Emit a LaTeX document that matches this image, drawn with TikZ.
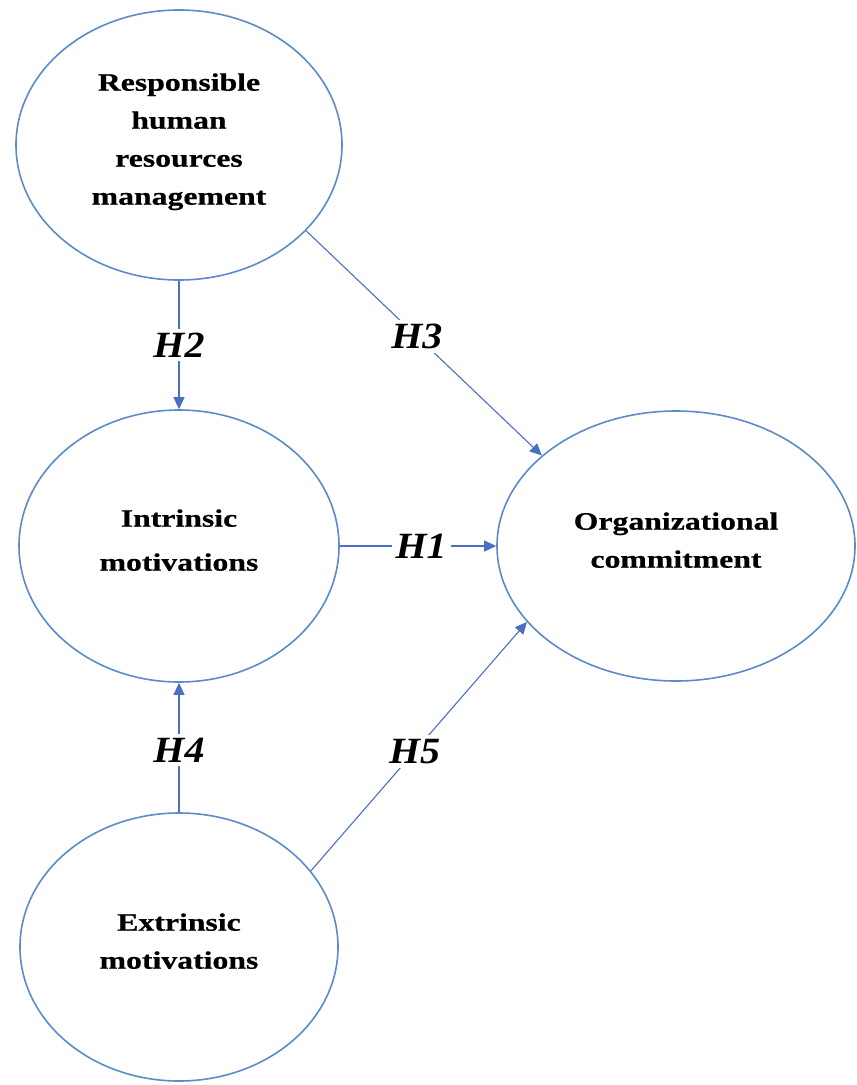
\documentclass[tikz,border=0pt]{standalone}
\usepackage{fontspec}
\setmainfont{Liberation Serif}[FakeStretch=1.27,FakeBold=0.6]
\newfontfamily\labfont{Liberation Serif}[FakeStretch=1.08]
\usetikzlibrary{shapes.geometric,arrows.meta}
\definecolor{ellblue}{HTML}{5B8BC8}
\definecolor{arrblue}{HTML}{4A70C2}
\tikzset{
  construct/.style={ellipse, draw=ellblue, line width=1.6pt, fill=white, inner sep=0pt,
    align=center, text depth=12pt, font=\fontsize{25}{38}\selectfont\bfseries},
  conn/.style={draw=arrblue, line width=1.1pt, -{Triangle[length=12pt,width=11pt]}},
  hlab/.style={fill=white, inner sep=4pt, font=\labfont\fontsize{37}{40}\selectfont\bfseries\itshape}
}
\begin{document}
\begin{tikzpicture}[x=1pt,y=-1pt]
\useasboundingbox (0,0) rectangle (857,1085);
\node[construct, minimum width=326pt, minimum height=270pt] (rhrm) at (179,145)
  {Responsible\\human\\resources\\management};
\node[construct, minimum width=320pt, minimum height=272pt, font=\fontsize{25}{44}\selectfont\bfseries] (intr) at (179,546)
  {Intrinsic\\motivations};
\node[construct, minimum width=358pt, minimum height=270pt] (org) at (676,546)
  {Organizational\\commitment};
\node[construct, minimum width=318pt, minimum height=268pt] (ext) at (179,947)
  {Extrinsic\\motivations};
\draw[conn] (rhrm.south) -- node[hlab, pos=0.5] {H2} (intr.north);
\draw[conn] (rhrm.-34.5) -- node[hlab, pos=0.47] {H3} (org.146.2);
\draw[conn] (intr.east) -- node[hlab, pos=0.52] {H1} (org.west);
\draw[conn] (ext.north) -- node[hlab, pos=0.48] {H4} (intr.south);
\draw[conn] (ext.30.9) -- node[hlab, pos=0.48] {H5} (org.-153.9);
\end{tikzpicture}
\end{document}
